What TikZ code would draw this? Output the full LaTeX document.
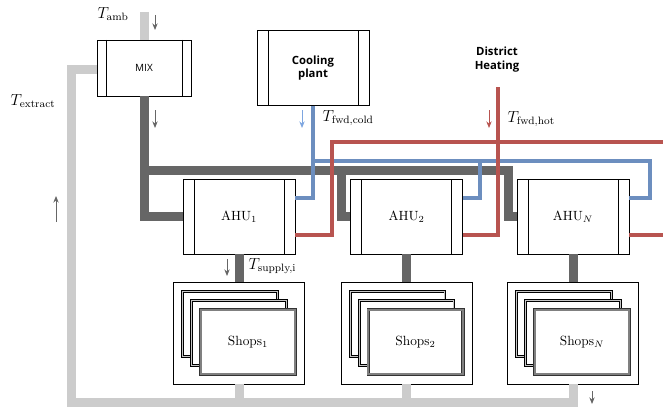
\documentclass[tikz,border=0pt]{standalone}
\usepackage{fontspec}
\usepackage{amsmath}
\usepackage{tikz}
\usetikzlibrary{arrows.meta,calc}
\newfontfamily\plantfont{Open Sans}
\definecolor{pipelight}{HTML}{CCCCCC}
\definecolor{pipedark}{HTML}{666666}
\definecolor{pipecold}{HTML}{6C8EBF}
\definecolor{pipehot}{HTML}{B85450}
\definecolor{arrowcold}{HTML}{7EA6E0}

\tikzset{
  panelbox/.style={draw, line width=0.5pt, inner sep=0pt, fill=white,
    path picture={\draw[line width=0.5pt]
      ([xshift=#1]path picture bounding box.north west) -- ([xshift=#1]path picture bounding box.south west)
      ([xshift=-#1]path picture bounding box.north east) -- ([xshift=-#1]path picture bounding box.south east);}},
  unitbox/.style={panelbox=8.25pt, minimum width=84pt, minimum height=56pt},
  shopframe/.style={draw, line width=0.5pt, minimum width=98pt, minimum height=76.5pt},
  shopcard/.style={draw, fill=white, line width=0.55pt, double=gray!45, double distance=0.9pt,
    minimum width=71pt, minimum height=48.5pt, inner sep=0pt},
  shopfront/.style={shopcard, draw=black!80, double=gray, double distance=1.4pt},
  lightpipe/.style={pipelight, line width=6.75pt},
  darkpipe/.style={pipedark, line width=6.75pt},
  coldpipe/.style={pipecold, line width=3pt},
  hotpipe/.style={pipehot, line width=3pt},
  flowarrow/.style={-{Stealth[length=5pt,width=4pt]}, line width=0.65pt, pipedark},
  templabel/.style={font=\large, inner sep=1pt}
}

\begin{document}
\begin{tikzpicture}[x=0.75pt,y=-0.75pt]
  \useasboundingbox (0,0) rectangle (663,410);

  % ── Units ──
  \node[panelbox=6.75pt, minimum width=70.5pt, minimum height=42pt,
        font=\plantfont\fontsize{7.5}{9}\selectfont] (mix) at (144,68) {MIX};
  \node[unitbox, align=center, font=\plantfont\bfseries\fontsize{8.5}{10}\selectfont]
       (cool) at (313,68) {Cooling\\plant};
  \node[align=center, font=\plantfont\bfseries\fontsize{8.5}{11}\selectfont]
       (dh) at (497,59.5) {District\\Heating};

  \node[unitbox] (ahu1) at (239,216.5) {AHU$_1$};
  \node[unitbox] (ahu2) at (406.5,216.5) {AHU$_2$};
  \node[unitbox] (ahuN) at (573,216.5) {AHU$_N$};

  % ── Shops ──
  \foreach \name/\xpos/\idx in {shops1/239/1, shops2/406.5/2, shopsN/573/N}{
    \node[shopframe] (\name) at (\xpos,333) {};
    \node[shopcard] (\name back) at ([xshift=-6.75pt,yshift=6.75pt]\name.center) {};
    \node[shopcard] (\name mid) at (\name.center) {};
    \node[shopfront] (\name front) at ([xshift=6.75pt,yshift=-6.75pt]\name.center) {Shops$_\idx$};
  }

  % ── Ports ──
  \foreach \unit in {ahu1, ahu2, ahuN}{
    \coordinate (\unit cold) at ([yshift=13.9pt]\unit.east);
    \coordinate (\unit hot) at ([yshift=-13.9pt]\unit.east);
  }
  \coordinate (ambin) at (144,12);
  \coordinate (retcorner) at (71.5,70);
  \coordinate (retbottom) at (573,402);
  \coordinate (airhdr) at (144,170);
  \coordinate (air2) at (341,170);
  \coordinate (airN) at (508,170);
  \coordinate (cold2) at (480,161);
  \coordinate (coldN) at (650,161);
  \coordinate (dhin) at (497.5,87);
  \coordinate (hot1) at (332,142);
  \coordinate (hotend) at (663,142);

  % ── Outdoor and extract air ──
  \draw[lightpipe] (ambin) -- (mix.north);
  \draw[lightpipe] (shopsN.south) -- (retbottom) -| (retcorner) -- (retcorner -| mix.west);
  \draw[lightpipe] (shops1.south) -- (shops1.south |- retbottom);
  \draw[lightpipe] (shops2.south) -- (shops2.south |- retbottom);

  % ── Mixed air ──
  \draw[darkpipe] (mix.south) |- (ahu1.west);
  \draw[darkpipe] (airhdr) -- (airN) |- (ahuN.west);
  \draw[darkpipe] (air2) |- (ahu2.west);
  \draw[darkpipe] (ahu1.south) -- (shops1.north);
  \draw[darkpipe] (ahu2.south) -- (shops2.north);
  \draw[darkpipe] (ahuN.south) -- (shopsN.north);

  % ── Cold water ──
  \draw[coldpipe] (cool.south) |- (ahu1cold);
  \draw[coldpipe] (cool.south |- coldN) -- (coldN) |- (ahuNcold);
  \draw[coldpipe] (cold2) |- (ahu2cold);

  % ── Hot water ──
  \draw[hotpipe] (hotend) -- (hot1) |- (ahu1hot);
  \draw[hotpipe] (ahuNhot) -- (ahuNhot -| hotend);
  \draw[hotpipe] (dhin) |- (ahu2hot);

  % ── Flow directions ──
  \draw[flowarrow] (155,15) -- (155,30);
  \draw[flowarrow] (155,110) -- (155,128);
  \draw[flowarrow, arrowcold] (302,110) -- (302,128);
  \draw[flowarrow, pipehot] (489,110) -- (489,128);
  \draw[flowarrow] (227,259) -- (227,276);
  \draw[flowarrow] (56,222) -- (56,196);
  \draw[flowarrow] (592,391) -- (592,404);

  % ── Temperatures ──
  \node[templabel] (tamb) at (113,14) {$T_\text{amb}$};
  \node[templabel] (textract) at (33,101) {$T_\text{extract}$};
  \node[templabel, anchor=west] (tcold) at (321,118) {$T_\text{fwd,cold}$};
  \node[templabel, anchor=west] (thot) at (506,119) {$T_\text{fwd,hot}$};
  \node[templabel, anchor=west] (tsupply) at (247,266) {$T_\text{supply,i}$};
\end{tikzpicture}
\end{document}
